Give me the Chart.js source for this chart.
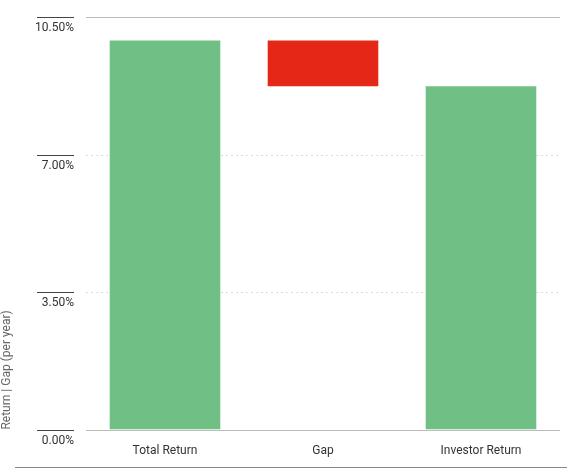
<!DOCTYPE html>
<html><head><meta charset="utf-8">
<script src="https://cdn.jsdelivr.net/npm/chart.js@4"></script>
<style>html,body{margin:0;padding:0;background:#fff}#w{width:567px;height:474px}</style>
</head><body><div id="w"><canvas id="c"></canvas></div>
<script>
const categories = ['Total Return', 'Gap', 'Investor Return'];
const barStart = [0, 8.74, 0];
const barEnd = [9.90, 9.90, 8.74];
const barColors = ['#70c085', '#e52718', '#70c085'];
const tickValues = [0, 3.5, 7, 10.5];
const tickLabels = ['0.00%', '3.50%', '7.00%', '10.50%'];
const FONT = "'Liberation Sans Narrow', 'Roboto', sans-serif";

const deco = {
  id: 'deco',
  beforeDatasetsDraw(chart) {
    const ctx = chart.ctx, y = chart.scales.y, a = chart.chartArea;
    ctx.save();
    tickValues.forEach((v, i) => {
      const py = Math.round(y.getPixelForValue(v)) + 0.5;
      const solid = (i === 0 || i === tickValues.length - 1);
      ctx.strokeStyle = solid ? '#bbbbbb' : '#dddddd';
      ctx.lineWidth = 1;
      ctx.setLineDash(solid ? [] : [2, 3]);
      ctx.beginPath(); ctx.moveTo(a.left, py); ctx.lineTo(a.right, py); ctx.stroke();
      ctx.setLineDash([]);
      ctx.strokeStyle = '#444';
      ctx.beginPath(); ctx.moveTo(37, py); ctx.lineTo(74, py); ctx.stroke();
      ctx.fillStyle = '#333';
      ctx.font = '12px ' + FONT;
      ctx.textAlign = 'right'; ctx.textBaseline = 'top';
      ctx.fillText(tickLabels[i], 74, py + 4);
    });
    ctx.strokeStyle = '#888';
    ctx.beginPath(); ctx.moveTo(15, 467.5); ctx.lineTo(567, 467.5); ctx.stroke();
    ctx.restore();
  }
};

new Chart(document.getElementById('c'), {
  type: 'bar',
  data: {
    labels: categories,
    datasets: [{
      data: categories.map((_, i) => [barStart[i], barEnd[i]]),
      backgroundColor: barColors,
      barPercentage: 0.7,
      categoryPercentage: 1
    }]
  },
  options: {
    responsive: true, maintainAspectRatio: false, animation: false,
    layout: { padding: { top: 17, right: 7, bottom: 10, left: 0 } },
    plugins: { legend: { display: false }, tooltip: { enabled: false } },
    scales: {
      x: {
        grid: { display: false }, border: { display: false },
        ticks: { color: '#333', font: { family: FONT, size: 12 }, padding: 6 }
      },
      y: {
        min: 0, max: 10.5,
        afterFit(s) { s.width = 86; },
        grid: { display: false }, border: { display: false },
        ticks: { display: false, stepSize: 3.5 },
        title: { display: true, text: 'Return | Gap (per year)', align: 'start', color: '#666', font: { family: FONT, size: 12 }, padding: { top: 0, bottom: 0 } }
      }
    }
  },
  plugins: [deco]
});
</script></body></html>
